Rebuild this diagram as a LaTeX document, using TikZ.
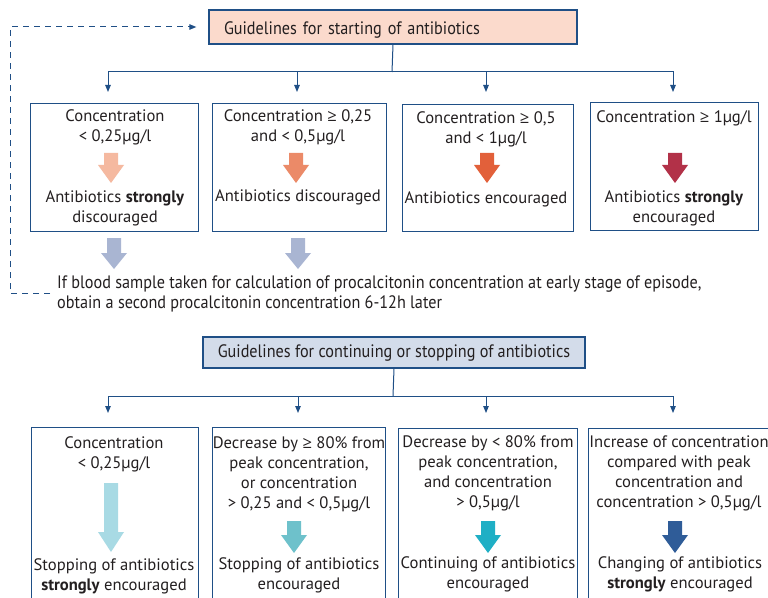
\documentclass[tikz,border=0pt]{standalone}
\usepackage{fontspec}
\setmainfont{PT Sans}
\newfontfamily\condf[FakeStretch=0.9]{PT Sans}
\newfontfamily\symf{Open Sans}
\newcommand\gesym{{\symf ≥}}
\usetikzlibrary{arrows.meta,calc}
\definecolor{bcol}{HTML}{1F4F86}
\definecolor{txtcol}{HTML}{231F20}
\definecolor{peach}{HTML}{FBDACC}
\definecolor{paleblue}{HTML}{D3DCEA}
\definecolor{aA}{HTML}{F5B9A0}
\definecolor{aB}{HTML}{EB8A68}
\definecolor{aC}{HTML}{E2603A}
\definecolor{aD}{HTML}{B23148}
\definecolor{aG}{HTML}{A9B5D2}
\definecolor{bA}{HTML}{A8DAE4}
\definecolor{bB}{HTML}{6EC1CB}
\definecolor{bC}{HTML}{1FAFC5}
\definecolor{bD}{HTML}{2F5C98}
\newcommand\st{\rule[-6bp]{0pt}{20bp}}
\newcommand\fatarr[5]{%
  \fill[#1] (#2-7,#3) -- (#2+7,#3) -- (#2+7,#4) -- (#2+13,#4) -- (#2,#5)
    -- (#2-13,#4) -- (#2-7,#4) -- cycle;}
\begin{document}
\begin{tikzpicture}[x=1bp,y=-1bp,
  boxframe/.style={draw=bcol,line width=1.3bp,inner sep=0pt,anchor=north west},
  titlebox/.style={boxframe,anchor=center,font=\condf\fontsize{18bp}{20bp}\selectfont,text=txtcol},
  txt/.style={font=\fontsize{16.6bp}{20bp}\selectfont,text=txtcol,align=center,inner sep=0pt},
  notetxt/.style={font=\condf\fontsize{18bp}{20bp}\selectfont,text=txtcol,align=left,inner sep=0pt,anchor=west},
  line/.style={draw=bcol,line width=1bp},
  conn/.style={line,-{Triangle[length=7bp,width=5.5bp]}},
  dconn/.style={conn,dash pattern=on 6bp off 5bp}]
\clip (0,0) rectangle (768,598);
\fill[white] (0,0) rectangle (768,598);

% ---------- starting ----------
\node[titlebox,fill=peach,inner xsep=15bp,text width=338bp,align=left,text height=20bp,text depth=4bp,minimum height=34bp] (t1) at (393,27) {Guidelines for starting of antibiotics};

\node[boxframe,minimum width=168bp,minimum height=128bp] (s1) at (30,103) {};
\node[boxframe,minimum width=174bp,minimum height=128bp] (s2) at (212,103) {};
\node[boxframe,minimum width=171bp,minimum height=127bp] (s3) at (402,104) {};
\node[boxframe,minimum width=168bp,minimum height=128bp] (s4) at (590,102) {};

\node[txt] (sc1) at (115,127.5) {\st Concentration\\\st < 0,25µg/l};
\node[txt] (sr1) at (115,208.5) {\st Antibiotics \textbf{strongly}\\\st discouraged};
\node[txt] (sc2) at (298,127.5) {\st Concentration \gesym{} 0,25\\\st and < 0,5µg/l};
\node[txt] (sr2) at (298,197.5) {\st Antibiotics discouraged};
\node[txt] (sc3) at (486,129.5) {\st Concentration \gesym{} 0,5\\\st and < 1µg/l};
\node[txt] (sr3) at (486,199.5) {\st Antibiotics encouraged};
\node[txt] (sc4) at (674,118.5) {\st Concentration \gesym{} 1µg/l};
\node[txt] (sr4) at (674,208.5) {\st Antibiotics \textbf{strongly}\\\st encouraged};

\fatarr{aA}{111}{153}{165}{183}
\fatarr{aB}{296}{153}{165}{183}
\fatarr{aC}{487}{153}{165}{183}
\fatarr{aD}{675}{153}{165}{183}

\coordinate (j1) at (392,72);
\coordinate (e1) at (108,92);
\coordinate (e2) at (297,92);
\coordinate (e3) at (486,92);
\coordinate (e4) at (673,92);
\draw[line] (t1.south) -- (j1);
\draw[conn] (j1) -| (e1);
\draw[conn] (j1) -| (e2);
\draw[conn] (j1) -| (e3);
\draw[conn] (j1) -| (e4);

\fatarr{aG}{114}{238}{253}{269}
\fatarr{aG}{298}{238}{253}{269}

\node[notetxt] (note) at (57,294.5) {\st If blood sample taken for calculation of procalcitonin concentration at early stage of episode,\\\st obtain a second procalcitonin concentration 6-12h later};

\coordinate (d0) at (50,293);
\coordinate (dc) at (10,293);
\draw[dconn,shorten >=12bp] (d0) -- (dc) |- (t1.west);

% ---------- continuing / stopping ----------
\node[titlebox,fill=paleblue,minimum width=382bp,minimum height=31bp] (t2) at (394,352.5) {Guidelines for continuing or stopping of antibiotics};

\node[boxframe,minimum width=167bp,minimum height=190bp] (c1) at (31,427) {};
\node[boxframe,minimum width=173bp,minimum height=190bp] (c2) at (212,427) {};
\node[boxframe,minimum width=179bp,minimum height=190bp] (c3) at (398,428) {};
\node[boxframe,minimum width=210bp,minimum height=190bp] (c4) at (588,428) {};

\node[txt] (cc1) at (114,454.5) {\st Concentration\\\st < 0,25µg/l};
\node[txt] (cr1) at (114,576) {\st Stopping of antibiotics\\\st \textbf{strongly} encouraged};
\node[txt] (cc2) at (299,474.5) {\st Decrease by \gesym{} 80\% from\\\st peak concentration,\\\st or concentration\\\st > 0,25 and < 0,5µg/l};
\node[txt] (cr2) at (299,575.5) {\st Stopping of antibiotics\\\st encouraged};
\node[txt] (cc3) at (488,473.5) {\st Decrease by < 80\% from\\\st peak concentration,\\\st and concentration\\\st > 0,5µg/l};
\node[txt] (cr3) at (488,574.5) {\st Continuing of antibiotics\\\st encouraged};
\node[txt] (cc4) at (679,473) {\st Increase of concentration\\\st compared with peak\\\st concentration and\\\st concentration > 0,5µg/l};
\node[txt] (cr4) at (680,574.5) {\st Changing of antibiotics\\\st \textbf{strongly} encouraged};

\fatarr{bA}{111}{483}{532}{552}
\fatarr{bB}{294}{521}{535}{553}
\fatarr{bC}{488}{521}{535}{553}
\fatarr{bD}{675}{521}{535}{553}

\coordinate (j2) at (393,396);
\coordinate (f1) at (108,413);
\coordinate (f2) at (298,413);
\coordinate (f3) at (486,413);
\coordinate (f4) at (673,413);
\draw[line] (t2.south) -- (j2);
\draw[conn] (j2) -| (f1);
\draw[conn] (j2) -| (f2);
\draw[conn] (j2) -| (f3);
\draw[conn] (j2) -| (f4);
\end{tikzpicture}
\end{document}
